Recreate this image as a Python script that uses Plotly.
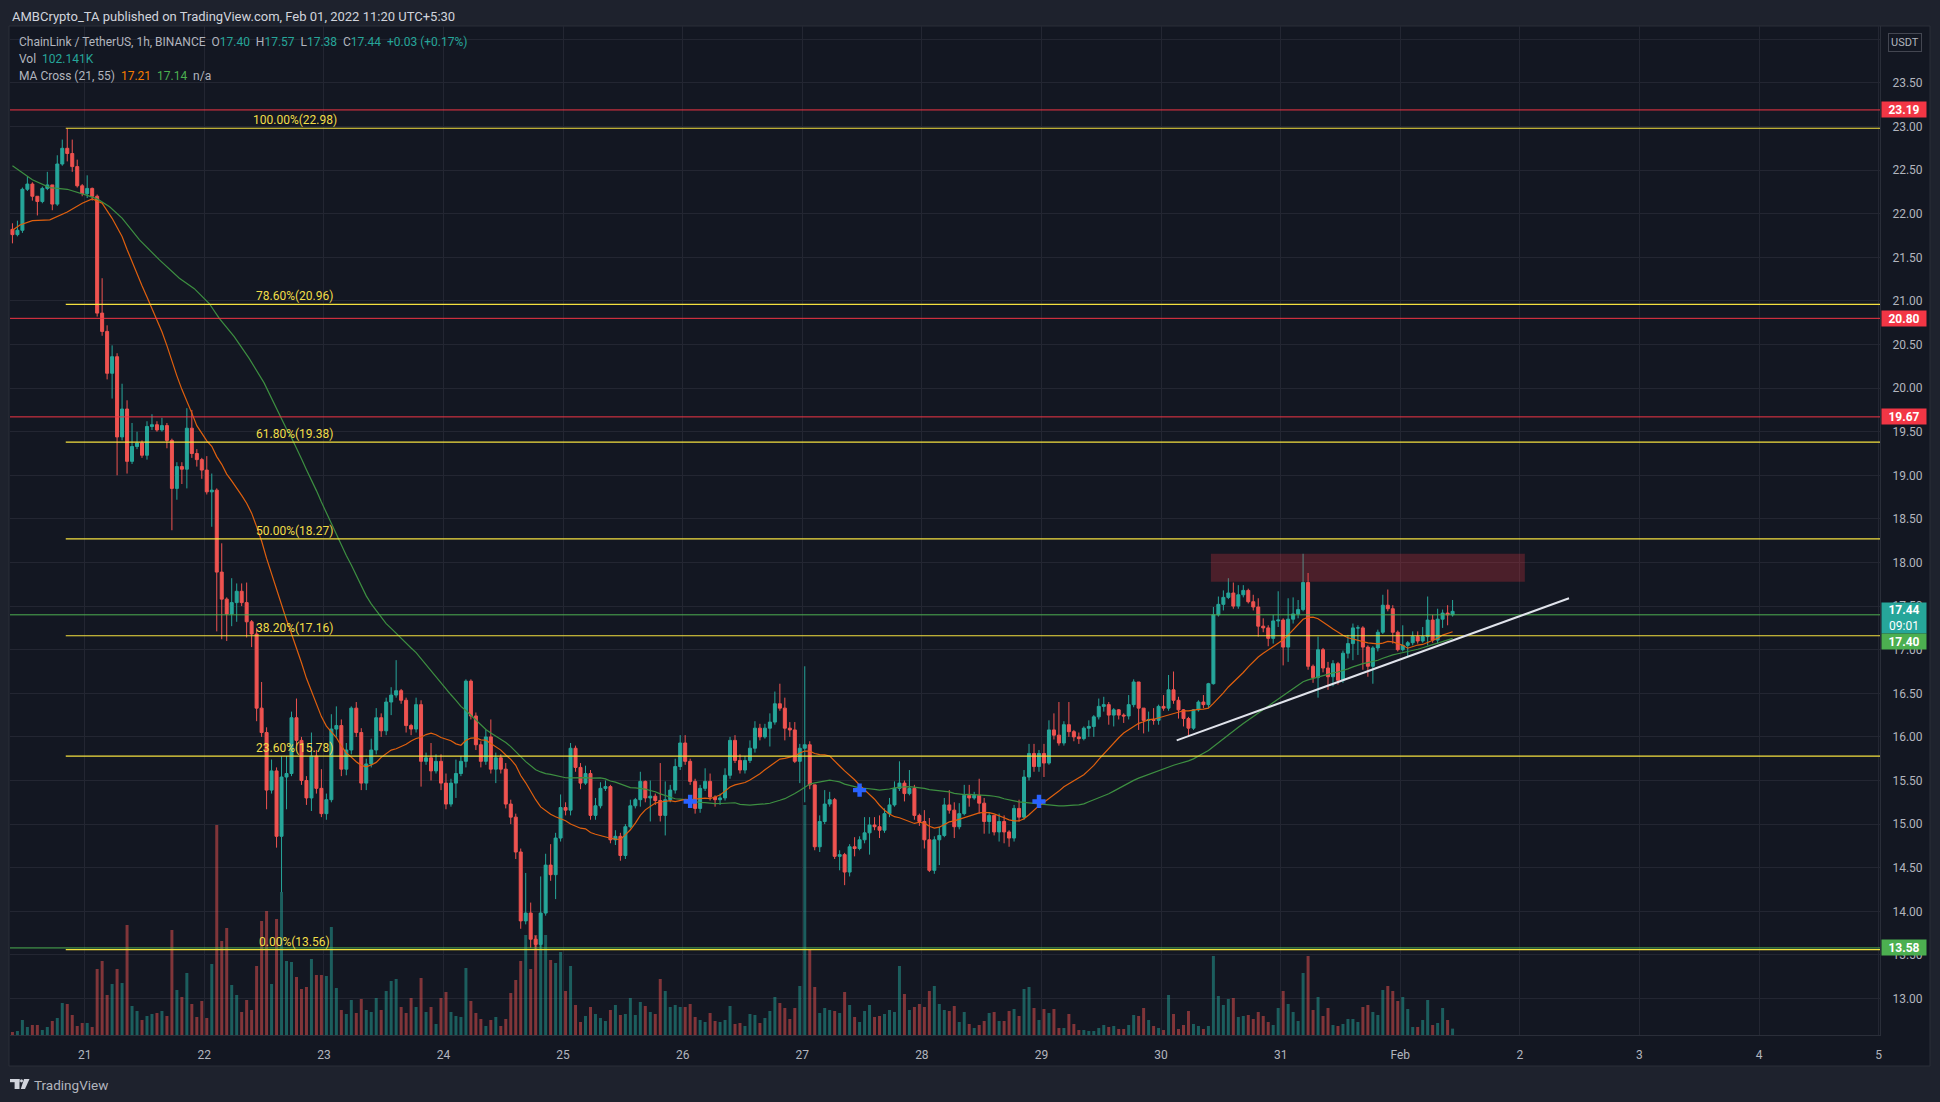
import pandas as pd
import plotly.graph_objects as go

# ---------------- data ----------------
first_bar = "2022-01-20 09:30"   # hourly bars, UTC+5:30

opens = [21.82,21.76,21.81,22.28,22.34,22.20,22.14,22.29,22.33,22.11,
         22.57,22.75,22.69,22.54,22.32,22.23,22.29,22.20,20.86,20.65,
         20.17,20.36,19.44,19.76,19.16,19.33,19.37,19.23,19.56,19.58,
         19.52,19.57,19.40,18.85,19.10,19.07,19.54,19.25,19.18,19.06,
         18.81,18.83,17.89,17.58,17.41,17.54,17.67,17.54,17.32,17.18,
         16.33,16.05,15.39,15.61,14.86,15.54,15.58,16.22,15.96,15.50,
         15.30,15.78,15.41,15.12,15.28,16.09,16.13,15.63,15.85,16.33,
         16.05,15.47,15.69,15.85,16.22,16.07,16.40,16.48,16.53,16.42,
         16.13,16.09,16.37,15.72,15.76,15.61,15.72,15.47,15.23,15.47,
         15.58,15.72,16.64,16.24,15.91,15.72,16.00,15.63,15.76,15.63,
         15.23,15.08,14.68,13.89,13.98,13.68,13.62,13.98,14.53,14.42,
         14.84,15.19,15.16,15.87,15.65,15.47,15.58,15.10,15.21,15.41,
         15.43,14.82,14.86,14.64,14.97,15.21,15.28,15.49,15.30,15.32,
         15.27,15.10,15.28,15.39,15.66,15.93,15.72,15.49,15.18,15.41,
         15.49,15.31,15.28,15.30,15.56,15.96,15.73,15.62,15.73,15.87,
         16.10,16.00,16.10,16.17,16.38,16.33,16.10,16.08,15.72,15.87,
         15.91,15.45,14.74,15.03,15.23,15.28,14.63,14.65,14.45,14.74,
         14.72,14.82,14.90,14.99,14.97,14.93,15.12,15.22,15.41,15.47,
         15.35,15.41,15.10,15.03,14.82,14.47,14.82,14.87,15.22,15.16,
         14.97,15.12,15.33,15.30,15.33,15.24,15.03,15.10,14.91,15.03,
         14.91,14.84,15.18,15.08,15.54,15.81,15.66,15.81,15.70,16.08,
         16.02,15.93,16.14,16.06,16.00,15.98,16.10,16.12,16.23,16.35,
         16.37,16.25,16.31,16.25,16.24,16.37,16.63,16.33,16.19,16.20,
         16.19,16.35,16.33,16.54,16.42,16.31,16.21,16.10,16.31,16.40,
         16.37,16.61,17.40,17.52,17.60,17.65,17.50,17.63,17.68,17.55,
         17.49,17.27,17.25,17.13,17.33,17.34,17.03,17.35,17.41,17.46,
         17.77,16.81,16.68,17.00,16.79,16.69,16.84,16.65,16.96,17.07,
         17.25,17.25,17.03,16.81,17.02,17.20,17.51,17.47,17.20,17.00,
         17.05,17.08,17.15,17.10,17.15,17.34,17.11,17.35,17.42,17.40]

closes = [21.76,21.81,22.28,22.34,22.20,22.14,22.29,22.33,22.11,22.57,
          22.75,22.69,22.54,22.32,22.23,22.29,22.20,20.86,20.65,20.17,
          20.36,19.44,19.76,19.16,19.33,19.37,19.23,19.56,19.58,19.52,
          19.57,19.40,18.85,19.10,19.07,19.54,19.25,19.18,19.06,18.81,
          18.83,17.89,17.58,17.41,17.54,17.67,17.54,17.32,17.18,16.33,
          16.05,15.39,15.61,14.86,15.54,15.58,16.22,15.96,15.50,15.30,
          15.78,15.41,15.12,15.28,16.09,16.13,15.63,15.85,16.33,16.05,
          15.47,15.69,15.85,16.22,16.07,16.40,16.48,16.53,16.42,16.13,
          16.09,16.37,15.72,15.76,15.61,15.72,15.47,15.23,15.47,15.58,
          15.72,16.64,16.24,15.91,15.72,16.00,15.63,15.76,15.63,15.23,
          15.08,14.68,13.89,13.98,13.68,13.62,13.98,14.53,14.42,14.84,
          15.19,15.16,15.87,15.65,15.47,15.58,15.10,15.21,15.41,15.43,
          14.82,14.86,14.64,14.97,15.21,15.28,15.49,15.30,15.32,15.27,
          15.10,15.28,15.39,15.66,15.93,15.72,15.49,15.18,15.41,15.49,
          15.31,15.28,15.30,15.56,15.96,15.73,15.62,15.73,15.87,16.10,
          16.00,16.10,16.17,16.38,16.33,16.10,16.08,15.72,15.87,15.91,
          15.45,14.74,15.03,15.23,15.28,14.63,14.65,14.45,14.74,14.72,
          14.82,14.90,14.99,14.97,14.93,15.12,15.22,15.41,15.47,15.35,
          15.41,15.10,15.03,14.82,14.47,14.82,14.87,15.22,15.16,14.97,
          15.12,15.33,15.30,15.33,15.24,15.03,15.10,14.91,15.03,14.91,
          14.84,15.18,15.08,15.54,15.81,15.66,15.81,15.70,16.08,16.02,
          15.93,16.14,16.06,16.00,15.98,16.10,16.12,16.23,16.35,16.37,
          16.25,16.31,16.25,16.24,16.37,16.63,16.33,16.19,16.20,16.19,
          16.35,16.33,16.54,16.42,16.31,16.21,16.10,16.31,16.40,16.37,
          16.61,17.40,17.52,17.60,17.65,17.50,17.63,17.68,17.55,17.49,
          17.27,17.25,17.13,17.33,17.34,17.03,17.35,17.41,17.46,17.77,
          16.81,16.68,17.00,16.79,16.69,16.84,16.65,16.96,17.07,17.25,
          17.25,17.03,16.81,17.02,17.20,17.51,17.47,17.20,17.00,17.05,
          17.08,17.15,17.10,17.15,17.34,17.11,17.35,17.42,17.40,17.44]

highs = [21.89,21.92,22.30,22.43,22.36,22.20,22.31,22.48,22.33,22.67,
         22.85,22.98,22.85,22.62,22.34,22.44,22.30,22.22,21.26,20.72,
         20.49,20.40,20.05,19.86,19.60,19.50,19.40,19.62,19.70,19.62,
         19.66,19.60,19.42,19.15,19.15,19.77,19.75,19.30,19.20,19.22,
         19.02,18.85,18.22,17.60,17.82,17.76,17.76,17.77,17.34,17.25,
         16.63,16.11,15.74,15.65,15.78,15.78,16.29,16.44,16.00,15.55,
         16.05,15.85,15.63,15.35,16.26,16.35,16.20,15.93,16.35,16.40,
         16.10,15.75,15.98,16.33,16.27,16.45,16.57,16.88,16.55,16.45,
         16.15,16.45,16.42,15.82,15.93,15.80,15.80,15.58,15.52,15.74,
         15.78,16.66,16.66,16.28,15.95,16.08,16.20,15.82,15.80,15.70,
         15.28,15.12,14.72,14.44,14.10,13.72,14.40,14.66,14.77,14.90,
         15.34,15.25,15.93,15.90,15.70,15.67,15.62,15.30,15.48,15.50,
         15.45,14.93,14.90,15.00,15.28,15.30,15.60,15.50,15.50,15.35,
         15.70,15.49,15.45,15.75,16.02,16.02,15.75,15.52,15.45,15.64,
         15.58,15.33,15.35,15.64,16.00,16.02,15.80,15.78,15.96,16.18,
         16.15,16.15,16.27,16.52,16.61,16.45,16.17,16.17,15.92,16.81,
         15.95,15.45,15.10,15.39,15.37,15.30,14.70,14.67,14.77,14.85,
         14.86,15.08,15.08,15.08,15.10,15.18,15.30,15.49,15.72,15.50,
         15.62,15.45,15.12,15.16,15.07,14.86,14.97,15.30,15.39,15.25,
         15.24,15.45,15.45,15.37,15.52,15.30,15.13,15.10,15.12,15.10,
         14.93,15.22,15.28,15.62,15.92,15.92,15.85,15.92,16.19,16.27,
         16.40,16.18,16.40,16.08,16.05,16.12,16.19,16.25,16.44,16.46,
         16.40,16.33,16.32,16.27,16.48,16.66,16.63,16.33,16.29,16.33,
         16.37,16.48,16.71,16.75,16.46,16.32,16.23,16.32,16.42,16.48,
         16.62,17.49,17.61,17.68,17.82,17.77,17.74,17.74,17.70,17.63,
         17.59,17.36,17.28,17.40,17.67,17.36,17.59,17.60,17.57,18.10,
         17.88,16.83,17.15,17.02,16.86,16.88,16.86,16.99,17.17,17.30,
         17.28,17.27,17.05,17.04,17.23,17.63,17.69,17.51,17.22,17.28,
         17.10,17.21,17.21,17.26,17.61,17.40,17.47,17.46,17.51,17.57]

lows = [21.66,21.74,21.78,22.26,22.15,21.98,22.12,22.27,22.04,22.09,
        22.55,22.60,22.48,22.30,22.20,22.18,22.15,20.82,20.60,20.10,
        19.88,19.00,19.40,19.02,19.13,19.30,19.20,19.18,19.52,19.50,
        19.50,19.31,18.37,18.72,18.90,18.85,19.20,19.10,18.96,18.78,
        18.41,17.21,17.12,17.10,17.27,17.32,17.50,17.14,17.03,16.18,
        16.00,15.17,15.35,14.73,14.22,15.17,15.55,15.90,15.45,15.22,
        15.15,15.35,15.08,15.05,15.25,16.00,15.55,15.56,15.80,16.00,
        15.39,15.39,15.65,15.80,16.00,16.02,16.25,16.45,16.38,16.05,
        16.02,16.05,15.43,15.68,15.50,15.58,15.39,15.17,15.20,15.30,
        15.55,15.65,16.20,15.85,15.65,15.68,15.58,15.47,15.58,15.18,
        15.00,14.60,13.80,13.85,13.58,13.56,13.57,13.95,14.35,14.14,
        14.80,15.10,15.10,15.60,15.40,15.45,15.05,15.05,15.18,15.38,
        14.78,14.76,14.58,14.60,14.95,15.18,15.20,15.25,15.03,15.22,
        15.03,14.87,15.25,15.35,15.62,15.68,15.45,15.12,15.13,15.38,
        15.27,15.20,15.22,15.27,15.52,15.70,15.58,15.58,15.70,15.82,
        15.96,15.98,15.89,16.14,16.30,15.96,16.00,15.70,15.47,15.25,
        15.40,14.70,14.68,15.00,15.20,14.60,14.47,14.30,14.40,14.63,
        14.70,14.78,14.65,14.93,14.84,14.90,15.08,15.20,15.38,15.26,
        15.33,15.05,14.98,14.72,14.45,14.43,14.53,14.85,15.12,14.84,
        14.94,15.10,15.20,15.28,15.12,14.89,14.89,14.87,14.80,14.78,
        14.74,14.80,15.03,15.05,15.50,15.60,15.60,15.54,15.68,15.97,
        15.90,15.90,16.00,15.95,15.92,15.96,16.00,16.00,16.20,16.29,
        16.14,16.12,16.20,16.16,16.20,16.34,16.08,16.04,16.06,16.14,
        16.14,16.30,16.30,16.38,16.21,16.12,16.02,16.08,16.29,16.33,
        16.33,16.60,17.38,17.45,17.58,17.47,17.47,17.60,17.53,17.45,
        17.15,17.20,17.04,17.07,17.26,16.82,16.86,17.30,17.36,17.44,
        16.77,16.62,16.45,16.74,16.54,16.58,16.60,16.62,16.90,16.88,
        16.94,16.77,16.69,16.61,16.98,17.18,17.44,17.07,16.98,16.98,
        16.92,17.05,17.07,17.08,17.05,17.08,17.07,17.25,17.28,17.38]

volumes_k = [48,64,240,128,160,160,80,128,224,272,
             512,496,320,144,192,192,128,1056,1184,640,
             816,1056,832,1760,464,384,240,304,336,352,
             384,304,1680,720,608,992,496,288,544,272,
             1136,3360,1504,1712,800,640,368,560,400,1104,
             1824,1984,816,1856,2288,1184,1168,928,736,768,
             1216,960,960,944,1728,752,400,336,560,352,
             576,400,368,592,400,704,864,896,448,352,
             592,448,912,368,448,176,592,688,368,304,
             288,1072,544,352,256,144,240,288,144,256,
             672,880,1184,1600,1056,1600,1760,1600,1200,1152,
             1328,704,1104,480,208,304,448,336,272,224,
             400,480,320,336,592,320,528,464,368,336,
             896,704,448,480,448,448,496,288,240,208,
             352,224,208,240,464,176,192,144,336,320,
             192,272,384,608,512,432,256,432,784,3680,
             1376,768,352,432,400,384,352,688,480,288,
             208,384,480,288,304,336,400,368,1104,656,
             400,448,496,448,704,784,496,400,384,464,
             208,368,176,112,160,224,352,368,224,224,
             384,416,304,736,768,432,240,416,352,416,
             112,112,336,176,80,80,64,64,112,160,
             128,144,96,96,160,320,304,432,240,144,
             112,80,640,336,96,160,384,176,144,96,
             144,1264,624,480,576,592,288,304,320,256,
             368,304,208,160,432,704,496,368,224,992,
             1264,400,608,304,432,160,144,176,256,256,
             208,448,480,368,320,720,784,704,544,608,
             416,128,128,240,560,160,192,432,240,102.141]

ma21_early_hours = [0, 1.5, 4, 7.5, 11, 14, 16, 18]
ma21_early_vals = [21.81, 21.87, 21.92, 21.93, 22.02, 22.12, 22.17, 22.12]
ma55_early_hours = [0, 4, 7.5, 11, 15, 17, 19.5, 22, 25.5, 29.5, 33.5, 36.5,
                    39.5, 41.5, 44.5, 47.5, 50.5]
ma55_early_vals = [22.55, 22.39, 22.30, 22.28, 22.21, 22.17, 22.08, 21.95, 21.70,
                   21.47, 21.26, 21.14, 20.97, 20.80, 20.59, 20.34, 20.06]

# MA-cross markers (bar hour offset, price)
cross_hours = [136, 170, 206]
cross_prices = [15.26, 15.39, 15.26]

fib_levels = [22.98, 20.96, 19.38, 18.27, 17.16, 15.78, 13.56]
fib_labels = ["100.00%(22.98)", "78.60%(20.96)", "61.80%(19.38)", "50.00%(18.27)",
              "38.20%(17.16)", "23.60%(15.78)", "0.00%(13.56)"]
red_levels = [23.19, 20.80, 19.67]
green_levels = [17.40, 13.58]
last_price = 17.44

day_ticks = ["2022-01-21", "2022-01-22", "2022-01-23", "2022-01-24", "2022-01-25",
             "2022-01-26", "2022-01-27", "2022-01-28", "2022-01-29", "2022-01-30",
             "2022-01-31", "2022-02-01", "2022-02-02", "2022-02-03", "2022-02-04",
             "2022-02-05"]
day_labels = ["21", "22", "23", "24", "25", "26", "27", "28", "29", "30", "31",
              "Feb", "2", "3", "4", "5"]
price_ticks = [13.0, 13.5, 14.0, 14.5, 15.0, 15.5, 16.0, 16.5, 17.0, 17.5, 18.0,
               18.5, 19.0, 19.5, 20.0, 20.5, 21.0, 21.5, 22.0, 22.5, 23.0, 23.5, 24.0]

# ---------------- derived ----------------
t0 = pd.Timestamp(first_bar)
times = [t0 + pd.Timedelta(hours=k) for k in range(len(closes))]
cs = pd.Series(closes)
ma21 = cs.rolling(21).mean()
ma55 = cs.rolling(55).mean()
ma21_x = [t0 + pd.Timedelta(hours=h) for h in ma21_early_hours] + times[20:]
ma21_y = ma21_early_vals + list(ma21.iloc[20:])
ma55_x = [t0 + pd.Timedelta(hours=h) for h in ma55_early_hours] + times[54:]
ma55_y = ma55_early_vals + list(ma55.iloc[54:])
hi = [max(h, o, c) for h, o, c in zip(highs, opens, closes)]
lo = [min(l, o, c) for l, o, c in zip(lows, opens, closes)]

UP, DN = "#26a69a", "#ef5350"
vol_colors = ["rgba(38,166,154,0.5)" if c >= o else "rgba(239,83,80,0.5)"
              for o, c in zip(opens, closes)]

# ---------------- geometry ----------------
W, H = 1940, 1102
PL, PR, PT, PB = 10, 1880, 26, 1035
x_start = pd.Timestamp("2022-01-20 09:00:36")
x_end = pd.Timestamp("2022-02-05 00:16:12")
y_lo, y_hi = 12.5815, 24.1525


def px_x(px):
    return (px - PL) / (PR - PL)


def px_y(py):
    return (PB - py) / (PB - PT)


fig = go.Figure()

fig.add_trace(go.Bar(x=times, y=volumes_k, marker_color=vol_colors, marker_line_width=0,
                     width=0.6 * 3600 * 1000, yaxis="y2", hoverinfo="skip",
                     showlegend=False))
fig.add_trace(go.Candlestick(
    x=times, open=opens, high=hi, low=lo, close=closes,
    increasing=dict(line=dict(color=UP, width=1), fillcolor=UP),
    decreasing=dict(line=dict(color=DN, width=1), fillcolor=DN),
    whiskerwidth=0, hoverinfo="skip", showlegend=False))
fig.add_trace(go.Scatter(x=ma55_x, y=ma55_y, mode="lines",
                         line=dict(color="#3d8f41", width=1.2), hoverinfo="skip",
                         showlegend=False))
fig.add_trace(go.Scatter(x=ma21_x, y=ma21_y, mode="lines",
                         line=dict(color="#e0600e", width=1.2), hoverinfo="skip",
                         showlegend=False))
fig.add_trace(go.Scatter(x=[t0 + pd.Timedelta(hours=h) for h in cross_hours], y=cross_prices,
                         mode="markers",
                         marker=dict(symbol="cross", size=11, color="#2962ff",
                                     line=dict(width=0)),
                         hoverinfo="skip", showlegend=False))

shapes = []
# chart frame (incl. price & time scale areas)
shapes.append(dict(type="rect", xref="paper", yref="paper",
                   x0=px_x(9), x1=px_x(1930), y0=px_y(1066), y1=px_y(PT),
                   fillcolor="#131722", line=dict(color="#2a2e39", width=1), layer="below"))
# resistance box
shapes.append(dict(type="rect", xref="x", yref="y",
                   x0="2022-01-30 10:00", x1="2022-02-02 01:00", y0=17.78, y1=18.10,
                   fillcolor="rgba(242,54,69,0.25)", line=dict(width=0), layer="above"))
# fib levels
for lv in fib_levels:
    shapes.append(dict(type="line", xref="x", yref="y", x0="2022-01-20 20:12", x1=x_end,
                       y0=lv, y1=lv, line=dict(color="#f5e13f", width=1.2), layer="above"))
for lv in red_levels:
    shapes.append(dict(type="line", xref="paper", yref="y", x0=0, x1=1, y0=lv, y1=lv,
                       line=dict(color="#f23645", width=1), layer="above"))
for lv in green_levels:
    shapes.append(dict(type="line", xref="paper", yref="y", x0=0, x1=1, y0=lv, y1=lv,
                       line=dict(color="#4caf50", width=1), layer="above"))
# ascending trendline
shapes.append(dict(type="line", xref="x", yref="y", x0="2022-01-30 03:08", y0=15.96,
                   x1="2022-02-02 09:52", y1=17.59,
                   line=dict(color="#e0e3eb", width=2), layer="above"))
# TradingView logo
shapes.append(dict(type="rect", xref="paper", yref="paper", x0=px_x(10), x1=px_x(19.5),
                   y0=px_y(1082.2), y1=px_y(1079), fillcolor="#d1d4dc", line=dict(width=0)))
shapes.append(dict(type="rect", xref="paper", yref="paper", x0=px_x(14.6), x1=px_x(19.5),
                   y0=px_y(1089), y1=px_y(1079), fillcolor="#d1d4dc", line=dict(width=0)))
shapes.append(dict(type="circle", xref="paper", yref="paper", x0=px_x(20.0), x1=px_x(23.0),
                   y0=px_y(1082.4), y1=px_y(1079.2), fillcolor="#d1d4dc", line=dict(width=0)))
x1p, x2p, x3p, x4p = px_x(24.0), px_x(29.5), px_x(25.0), px_x(20.8)
yt, yb = px_y(1079), px_y(1089)
shapes.append(dict(type="path", xref="paper", yref="paper",
                   path=f"M {x1p} {yt} L {x2p} {yt} L {x3p} {yb} L {x4p} {yb} Z",
                   fillcolor="#d1d4dc", line=dict(width=0)))

ann = []
FONT = "Roboto, 'Noto Sans', sans-serif"
ann.append(dict(xref="paper", yref="paper", x=px_x(10), y=px_y(16), xanchor="left",
                yanchor="middle", showarrow=False,
                text="AMBCrypto_TA published on TradingView.com, Feb 01, 2022 11:20 UTC+5:30",
                font=dict(family=FONT, size=13, color="#d1d4dc")))
sp = "\u00a0"
tc = lambda s, c: f"<span style='color:{c}'>{s}</span>"
ann.append(dict(xref="paper", yref="paper", x=px_x(17), y=px_y(42), xanchor="left",
                yanchor="middle", showarrow=False,
                text=("ChainLink / TetherUS, 1h, BINANCE" + sp * 2 + "O" + tc("17.40", UP) + sp * 2
                      + "H" + tc("17.57", UP) + sp * 2 + "L" + tc("17.38", UP) + sp * 2 + "C"
                      + tc("17.44", UP) + sp * 2 + tc("+0.03 (+0.17%)", UP)),
                font=dict(family=FONT, size=12, color="#b2b5be")))
ann.append(dict(xref="paper", yref="paper", x=px_x(17), y=px_y(59), xanchor="left",
                yanchor="middle", showarrow=False,
                text="Vol" + sp * 2 + tc("102.141K", UP),
                font=dict(family=FONT, size=12, color="#b2b5be")))
ann.append(dict(xref="paper", yref="paper", x=px_x(17), y=px_y(76), xanchor="left",
                yanchor="middle", showarrow=False,
                text=("MA Cross (21, 55)" + sp * 2 + tc("17.21", "#f57c00") + sp * 2
                      + tc("17.14", "#4caf50") + sp * 2 + "n/a"),
                font=dict(family=FONT, size=12, color="#b2b5be")))
for lv, lab in zip(fib_levels, fib_labels):
    ann.append(dict(xref="x", yref="y", x="2022-01-22 18:12", y=lv, xanchor="center",
                    yanchor="bottom", yshift=-1, showarrow=False, text=lab,
                    font=dict(family=FONT, size=12, color="#f2de48")))


def price_box(val, color, text, yshift=0, h=15):
    return dict(xref="paper", yref="y", x=px_x(1881), y=val, xanchor="left",
                yanchor="middle", yshift=yshift, showarrow=False, text=text,
                width=44, height=h, bgcolor=color, borderpad=0, align="center",
                font=dict(family=FONT, size=12, color="#ffffff"))


for lv in red_levels:
    ann.append(price_box(lv, "#f23645", f"<b>{lv:.2f}</b>"))
ann.append(price_box(last_price, "#26a69a", f"<b>{last_price:.2f}</b><br>09:01", yshift=-7, h=30))
ann.append(price_box(17.40, "#4caf50", "<b>17.40</b>", yshift=-27))
ann.append(price_box(13.58, "#4caf50", "<b>13.58</b>"))
ann.append(dict(xref="paper", yref="paper", x=px_x(1905), y=px_y(42), xanchor="center",
                yanchor="middle", showarrow=False, text="USDT", bgcolor="#131722",
                bordercolor="#434651", borderwidth=1, borderpad=2,
                font=dict(family=FONT, size=11, color="#b2b5be")))
ann.append(dict(xref="paper", yref="paper", x=px_x(32), y=px_y(1085), xanchor="left",
                yanchor="middle", showarrow=False, text="TradingView",
                font=dict(family=FONT, size=13.5, color="#b2b5be")))

fig.update_layout(
    width=W, height=H, autosize=False,
    margin=dict(l=PL, r=W - PR, t=PT, b=H - PB, pad=0),
    paper_bgcolor="#1e222d", plot_bgcolor="#131722",
    font=dict(family=FONT, color="#b2b5be", size=12),
    showlegend=False, boxgap=0.4, boxgroupgap=0,
    hovermode=False, dragmode=False,
    xaxis=dict(type="date", range=[x_start, x_end], tickvals=day_ticks, ticktext=day_labels,
               showgrid=True, gridcolor="#232632", gridwidth=1, zeroline=False,
               showline=True, linecolor="#2a2e39", ticks="", ticklabelstandoff=9,
               tickfont=dict(size=12, color="#b2b5be"),
               rangeslider=dict(visible=False), fixedrange=True),
    yaxis=dict(side="right", range=[y_lo, y_hi], tickvals=price_ticks,
               ticktext=[f"{v:.2f}" if v < 24 else "" for v in price_ticks],
               showgrid=True, gridcolor="#232632", gridwidth=1, zeroline=False,
               showline=True, linecolor="#2a2e39", ticks="", ticklabelstandoff=9,
               tickfont=dict(size=12, color="#b2b5be"), fixedrange=True),
    yaxis2=dict(overlaying="y", range=[0, 16144], visible=False, fixedrange=True),
    shapes=shapes, annotations=ann,
)

fig.write_html("out.html", config={"displayModeBar": False, "staticPlot": False},
               post_script="document.body.style.margin='0';document.body.style.overflow='hidden';")
